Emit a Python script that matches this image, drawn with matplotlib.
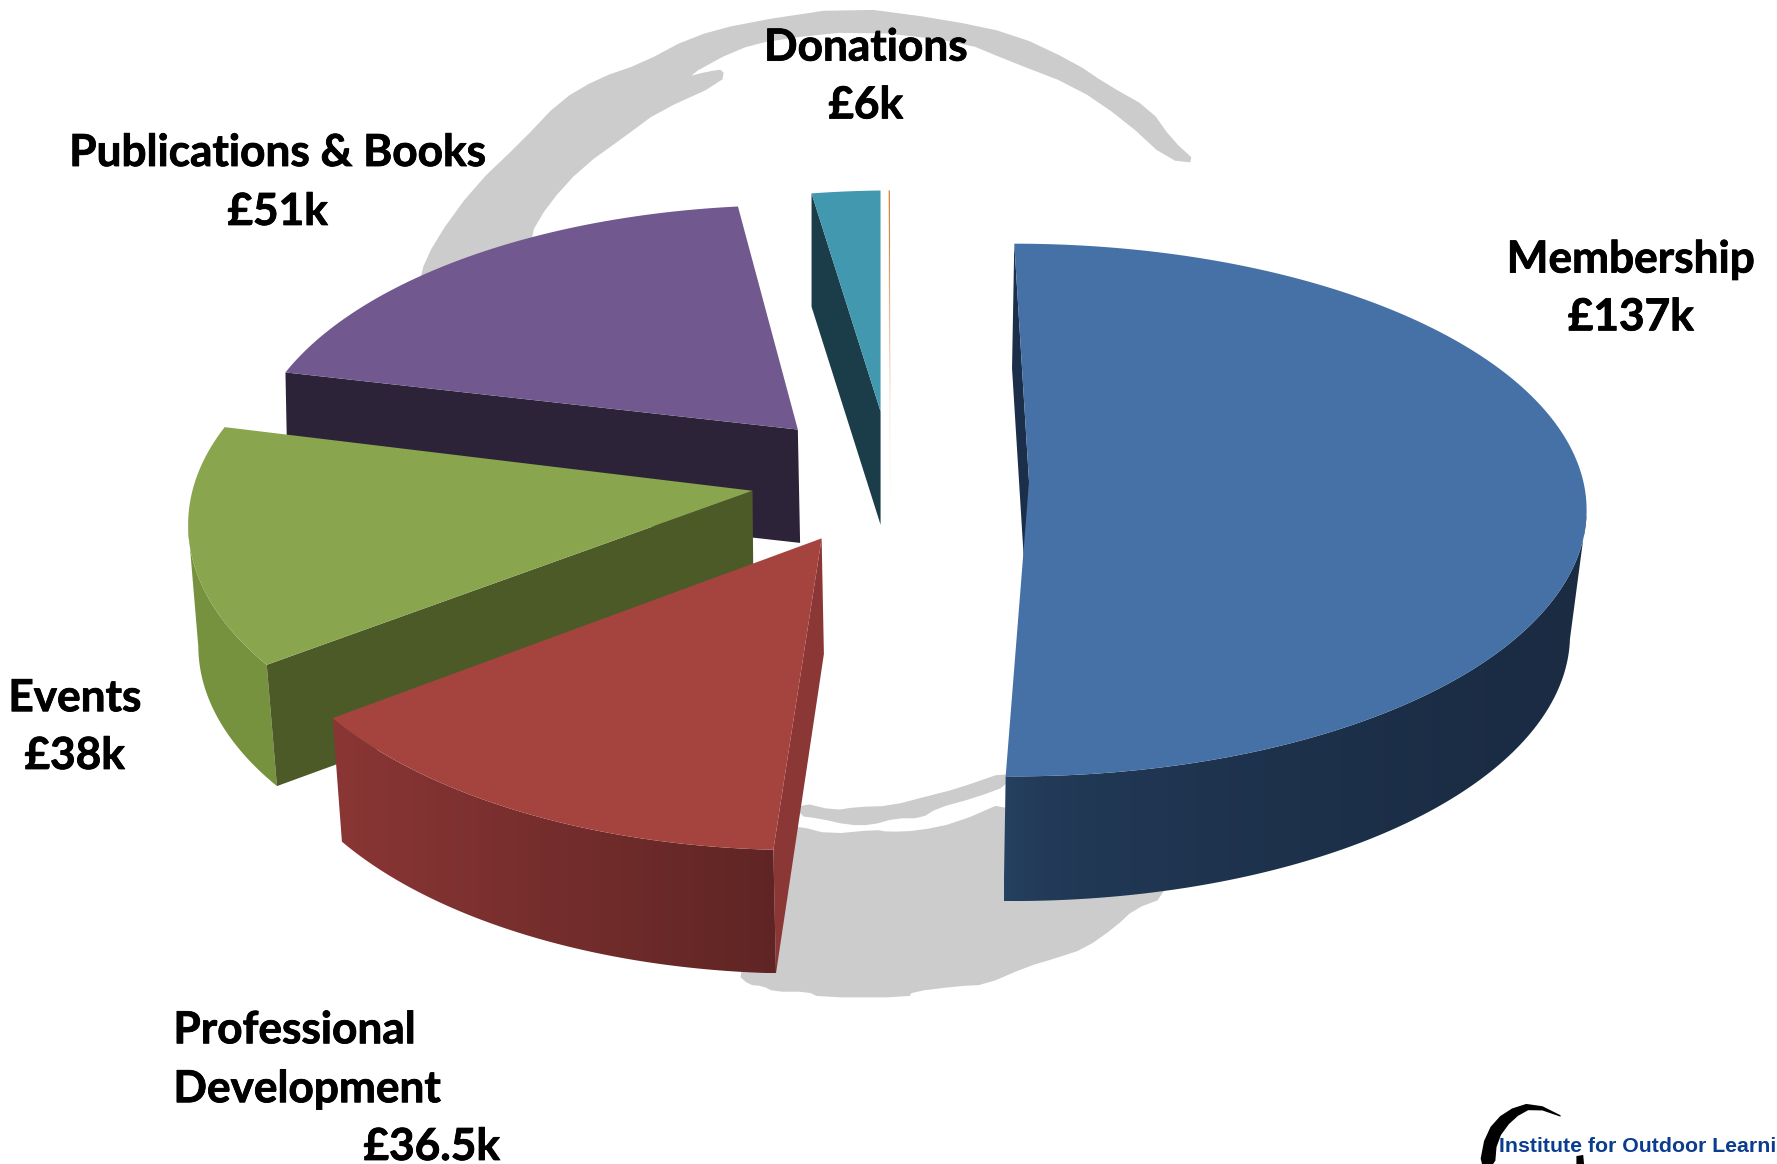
import numpy as np
import matplotlib
matplotlib.use("Agg")
import matplotlib.pyplot as plt
import matplotlib.patheffects as pe
from matplotlib.colors import to_rgb
from matplotlib.patches import Polygon

# income by source, in thousands of pounds, clockwise from 12 o'clock
categories = ["Membership", "Professional Development", "Events",
              "Publications & Books", "Donations", "Other"]
values = [137, 36.5, 38, 51, 6, 0.1]
value_labels = ["£137k", "£36.5k", "£38k", "£51k", "£6k", ""]

# how each exploded slice sits in the fake 3D view (pixels of a 1568 wide canvas)
views = {
    "Membership": dict(apex=(908, 425), centre=(895, 450), a=505, b=235, phi0=0, stretch=0.985,
                       drop=(-2, 110), apex_drop=(-2, 110), taper=0.975, top="#4571a6", cut="#1b2f4a",
                       side=("#264263", "#1a2b42"), gamma=0.45),
    "Professional Development": dict(apex=(725, 475), centre=(705, 510), a=480, b=240, phi0=182.7, stretch=1.151,
                                     drop=(2, 109), apex_drop=(2, 102), taper=0.985, top="#a5433f", cut="#8a3735",
                                     side=("#8a3635", "#5f2524"), gamma=1.0),
    "Events": dict(apex=(664, 433), centre=(609, 463), a=443, b=230, phi0=237.5, stretch=1.07,
                   drop=(9, 107), apex_drop=(1, 107), taper=1.0, top="#89a54e", cut="#4c5a28",
                   side=("#76923f", "#76923f"), gamma=1.0),
    "Publications & Books": dict(apex=(704, 379), centre=(700, 411), a=480, b=230, phi0=291, stretch=0.924,
                                 drop=(2, 100), apex_drop=(2, 100), taper=1.0, top="#71588f", cut="#2d2339"),
    "Donations": dict(apex=(777, 363), centre=(790, 408), a=500, b=240, phi0=351.5, stretch=0.871,
                      drop=(0, 100), apex_drop=(0, 100), taper=1.0, top="#4298af", cut="#1b3d4a"),
    "Other": dict(apex=(785.5, 360), centre=(785, 408), a=500, b=240, phi0=359.9, stretch=1.0,
                  drop=(0, 85), apex_drop=(0, 85), taper=1.0, top="#d9843f", cut="#f3e2d6"),
}
draw_order = ["Other", "Donations", "Publications & Books", "Events",
              "Professional Development", "Membership"]

# grey brush-stroke watermark behind the pie
swirl_top = [(1057, 144), (1034, 123), (1015, 96), (976, 74), (948, 55), (895, 30), (833, 17),
             (750, 6), (657, 20), (609, 33), (566, 56), (528, 69), (494, 89), (461, 124),
             (418, 165), (384, 212), (370, 243), (372, 262), (465, 262), (467, 209),
             (484, 180), (513, 148), (556, 117), (580, 99), (637, 73), (639, 61), (625, 63),
             (605, 68), (649, 44), (683, 35), (759, 27), (850, 37), (891, 54), (948, 76),
             (992, 106), (1030, 141)]
swirl_band = [(707, 708), (736, 715), (756, 712), (786, 711), (820, 702), (844, 696), (890, 680),
              (890, 693), (860, 704), (827, 713), (813, 722), (790, 722), (769, 728), (749, 728),
              (722, 722), (705, 720)]
swirl_low = [(705, 729), (732, 736), (773, 732), (783, 734), (810, 733), (844, 726), (890, 706),
             (1030, 760), (1028, 792), (1001, 802), (984, 818), (957, 837), (933, 845), (906, 853),
             (869, 869), (846, 870), (805, 875), (802, 880), (723, 880), (713, 875), (683, 875),
             (673, 870), (661, 869), (651, 860), (670, 800), (690, 730)]

logo_arc = [(1385, 988), (1353, 972), (1328, 980), (1311, 999), (1305, 1030), (1319, 1030),
            (1321, 1006), (1335, 987), (1353, 977)]
logo_tail = [(1391, 1030), (1391, 1020), (1397, 1019), (1398, 1030)]

fig = plt.figure(figsize=(17.77, 11.64), dpi=100)
ax = fig.add_axes([0, 0, 1, 1])
ax.set_xlim(0, 1568)
ax.set_ylim(1027, 0)
ax.axis("off")


def soften(points, rounds=1):
    # corner cutting, so the hand-read outlines look brushed and not faceted
    p = np.array(points, dtype=float)
    for _ in range(rounds):
        q = np.roll(p, -1, axis=0)
        p = np.column_stack([0.75 * p + 0.25 * q, 0.25 * p + 0.75 * q]).reshape(-1, 2)
    return p


for shape in (swirl_top, swirl_band, swirl_low):
    ax.fill(*soften(shape).T, color="#cccccc", lw=0, zorder=1)


def arc_points(view, span, n=200):
    phi = np.radians(view["phi0"] + np.linspace(0, span * view["stretch"], n))
    x = view["centre"][0] + view["a"] * np.sin(phi)
    y = view["centre"][1] - view["b"] * np.cos(phi)
    return phi, x, y


spans = 360 * np.array(values) / sum(values)
z = 2
for name in draw_order:
    view = views[name]
    phi, x, y = arc_points(view, spans[categories.index(name)])
    dx, dy = view["drop"]
    ax0, ay0 = view["apex"]
    low_x = view["centre"][0] + (x - view["centre"][0]) * view["taper"] + dx
    low_y = y + dy

    # rounded outer wall, only the part facing us, shaded left to right
    if "side" in view:
        front = np.cos(phi) <= 0
        wall = np.column_stack([np.r_[x[front], low_x[front][::-1]], np.r_[y[front], low_y[front][::-1]]])
        left, right = np.array(to_rgb(view["side"][0])), np.array(to_rgb(view["side"][1]))
        ramp = left + (right - left) * (np.linspace(0, 1, 256)[:, None] ** view["gamma"])
        img = ax.imshow(ramp[None, :, :], extent=(wall[:, 0].min(), wall[:, 0].max(), wall[:, 1].max(), wall[:, 1].min()),
                        aspect="auto", zorder=z, interpolation="bilinear")
        patch = Polygon(wall, closed=True, transform=ax.transData, fc="none", ec="none")
        ax.add_patch(patch)
        img.set_clip_path(patch)
    # the cut face along the slice's first edge
    adx, ady = view["apex_drop"]
    ax.fill([x[0], low_x[0], ax0 + adx, ax0], [y[0], low_y[0], ay0 + ady, ay0],
            color=view["cut"], lw=0, zorder=z + 0.1)
    # top surface
    ax.fill(np.r_[ax0, x], np.r_[ay0, y], color=view["top"], lw=0, zorder=z + 0.2)
    z += 1

ax.set_xlim(0, 1568)
ax.set_ylim(1027, 0)

label_font = dict(family="Lato", fontweight="bold", fontsize=31.8, color="black", zorder=20,
                  path_effects=[pe.withStroke(linewidth=0.6, foreground="black")])
ax.text(764, 42, categories[4], ha="center", va="center", **label_font)
ax.text(764, 93, value_labels[4], ha="center", va="center", **label_font)
ax.text(245, 135, categories[3], ha="center", va="center", **label_font)
ax.text(245, 187, value_labels[3], ha="center", va="center", **label_font)
ax.text(1439, 229, categories[0], ha="center", va="center", **label_font)
ax.text(1439, 280, value_labels[0], ha="center", va="center", **label_font)
ax.text(66, 616, categories[2], ha="center", va="center", **label_font)
ax.text(66, 667, value_labels[2], ha="center", va="center", **label_font)
first, second = categories[1].split(" ")
ax.text(153, 909, first, ha="left", va="center", **label_font)
ax.text(153, 961, second, ha="left", va="center", **label_font)
ax.text(381, 1012, value_labels[1], ha="center", va="center", **label_font)

# logo, cut off by the corner of the slide
ax.fill(*soften(logo_arc).T, color="black", lw=0, zorder=21)
ax.fill(*zip(*logo_tail), color="black", lw=0, zorder=21)
ax.text(1323, 1016, "Institute for Outdoor Learni", family="Liberation Sans", fontweight="bold",
        fontsize=15.3, color="#0a3d8f", ha="left", va="baseline", zorder=22)

fig.savefig("out.png", dpi=100)
